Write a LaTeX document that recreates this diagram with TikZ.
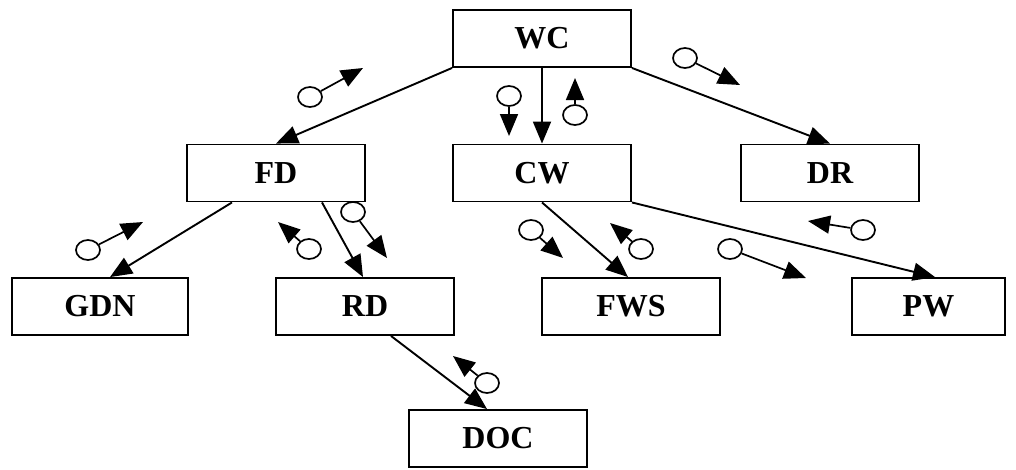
\documentclass[tikz,border=0pt]{standalone}
\usepackage{fontspec}
\setmainfont{Liberation Serif}
\usetikzlibrary{arrows.meta,shapes.geometric,calc}
\begin{document}
\begin{tikzpicture}[x=1pt,y=-1pt,line width=1.9pt,
  box/.style={draw,rectangle,minimum width=178pt,minimum height=57pt,inner sep=0pt,
    font=\fontsize{32}{34}\selectfont\bfseries},
  link/.style={-{Triangle[length=22pt,width=18pt]}},
  token/.style={draw,ellipse,minimum width=24pt,minimum height=20pt,inner sep=0pt,line width=1.7pt},
  flow/.style={line width=1.7pt,-{Triangle[length=22pt,width=18pt]}}]
\useasboundingbox (0,0) rectangle (1016,469);

% boxes
\node[box] (WC)  at (542,38.5)  {WC};
\node[box] (FD)  at (276,173)   {FD};
\node[box] (CW)  at (542,173)   {CW};
\node[box] (DR)  at (830,173)   {DR};
\node[box,minimum width=176pt] (GDN) at (100,306.5) {GDN};
\node[box] (RD)  at (365,306.5) {RD};
\node[box] (FWS) at (631,306.5) {FWS};
\node[box,minimum width=153pt] (PW) at (928.5,306.5) {PW};
\node[box] (DOC) at (498,438.5) {DOC};

% hierarchy links
\draw[link] (WC.south west) -- (FD.north);
\draw[link] (WC.south) -- (CW.north);
\draw[link] (WC.south east) -- (DR.north);
\draw[link] ($(FD.south)+(-44,0)$) -- ($(GDN.north)+(10,0)$);
\draw[link] ($(FD.south)+(46,0)$) -- ($(RD.north)+(-2,0)$);
\draw[link] (CW.south) -- ($(FWS.north)+(-3,0)$);
\draw[link] (CW.south east) -- ($(PW.north)+(6.5,0)$);
\draw[link] ($(RD.south)+(26,0)$) -- ($(DOC.north)+(-11,0)$);

% message tokens
\node[token] (t1)  at (310,97)  {};
\node[token] (t2)  at (509,96)  {};
\node[token] (t3)  at (575,115) {};
\node[token] (t4)  at (685,58)  {};
\node[token] (t5)  at (88,250)  {};
\node[token] (t6)  at (309,249) {};
\node[token] (t7)  at (353,212) {};
\node[token] (t8)  at (531,230) {};
\node[token] (t9)  at (641,249) {};
\node[token] (t10) at (863,230) {};
\node[token] (t11) at (730,249) {};
\node[token] (t12) at (487,383) {};

\coordinate (h1)  at (363,68);
\coordinate (h2)  at (509,136);
\coordinate (h3)  at (575,78);
\coordinate (h4)  at (740,85);
\coordinate (h5)  at (143,222);
\coordinate (h6)  at (278,222);
\coordinate (h7)  at (387,258);
\coordinate (h8)  at (563,258);
\coordinate (h9)  at (610,223);
\coordinate (h10) at (808,221);
\coordinate (h11) at (806,278);
\coordinate (h12) at (453,356);

\draw[flow] (t1)  -- (h1);
\draw[flow] (t2)  -- (h2);
\draw[flow] (t3)  -- (h3);
\draw[flow] (t4)  -- (h4);
\draw[flow] (t5)  -- (h5);
\draw[flow] (t6)  -- (h6);
\draw[flow] (t7)  -- (h7);
\draw[flow] (t8)  -- (h8);
\draw[flow] (t9)  -- (h9);
\draw[flow] (t10) -- (h10);
\draw[flow] (t11) -- (h11);
\draw[flow] (t12) -- (h12);
\end{tikzpicture}
\end{document}
